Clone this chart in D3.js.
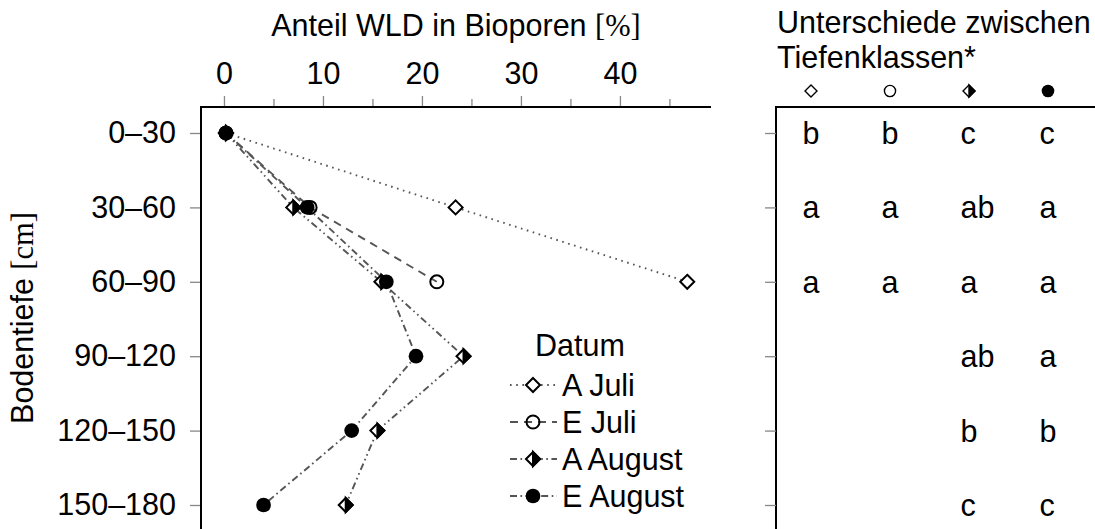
<!DOCTYPE html>
<html><head><meta charset="utf-8">
<script src="https://cdn.jsdelivr.net/npm/d3@7"></script>
<style>body{margin:0;background:#fff}svg{display:block}text{font-family:"Liberation Sans",Arial,sans-serif;fill:#000}</style>
</head><body><svg id="c" width="1095" height="529"></svg>
<script>
const depths = ["0–30","30–60","60–90","90–120","120–150","150–180"];
const xTickValues = [0,5,10,15,20,25,30,35,40,45];
const seriesNames = ["A Juli","E Juli","A August","E August"];
const aJuli = [0.2, 23.4, 46.8];
const eJuli = [0.2, 8.7, 21.5];
const aAugust = [0.2, 7.0, 15.9, 24.2, 15.5, 12.3];
const eAugust = [0.2, 8.4, 16.4, 19.4, 12.9, 4.0];
const lettersAJuli = ["b","a","a"];
const lettersEJuli = ["b","a","a"];
const lettersAAugust = ["c","ab","a","ab","b","c"];
const lettersEAugust = ["c","a","a","a","b","c"];

const FS = 30.5;
const svg = d3.select("#c");
const x = d3.scaleLinear().domain([-2.32, 49.2]).range([201, 711]);
const y = d3.scalePoint().domain(depths).range([133, 505]);
const col = d3.scalePoint().domain(seriesNames).range([811, 1048]);

const styles = [
  {name:"A Juli", vals:aJuli, dash:"1.6,4.6", marker:"diamond"},
  {name:"E Juli", vals:eJuli, dash:"8,6", marker:"ocircle"},
  {name:"A August", vals:aAugust, dash:"7,3.5,1.6,3.5,1.6,3.5", marker:"halfdiamond"},
  {name:"E August", vals:eAugust, dash:"7,3.5,1.6,3.5", marker:"fcircle"}
];

function drawMarker(g, type, cx, cy, s) {
  const sw = s > 6.5 ? 2 : 1.4;
  if (type === "diamond" || type === "halfdiamond") {
    const p = `M${cx},${cy-s}L${cx+s},${cy}L${cx},${cy+s}L${cx-s},${cy}Z`;
    g.append("path").attr("d", p).attr("fill", "#fff").attr("stroke", "#000").attr("stroke-width", sw);
    if (type === "halfdiamond") {
      g.append("path").attr("d", `M${cx},${cy-s}L${cx+s},${cy}L${cx},${cy+s}Z`).attr("fill", "#000").attr("stroke","#000").attr("stroke-width", sw);
    }
  } else if (type === "ocircle") {
    g.append("circle").attr("cx", cx).attr("cy", cy).attr("r", s*0.93).attr("fill", "none").attr("stroke", "#000").attr("stroke-width", sw);
  } else {
    g.append("circle").attr("cx", cx).attr("cy", cy).attr("r", s*1.05).attr("fill", "#000");
  }
}

// Titles
svg.append("text").attr("x", 456).attr("y", 36).attr("text-anchor","middle").attr("font-size", FS)
  .call(t => { t.append("tspan").text("Anteil WLD in Bioporen ");
               t.append("tspan").attr("font-family","'Liberation Serif',serif").text("[%]"); });
svg.append("text").attr("transform","translate(33,318) rotate(-90)").attr("text-anchor","middle").attr("font-size", FS)
  .call(t => { t.append("tspan").text("Bodentiefe ");
               t.append("tspan").attr("font-family","'Liberation Serif',serif").text("[cm]"); });
svg.append("text").attr("x", 777).attr("y", 33).attr("font-size", FS).text("Unterschiede zwischen");
svg.append("text").attr("x", 777).attr("y", 68).attr("font-size", FS).text("Tiefenklassen*");

// Top x axis
const gx = svg.append("g").attr("transform","translate(0,107)")
  .call(d3.axisTop(x).tickValues(xTickValues).tickSize(11).tickPadding(12)
    .tickFormat(d => d % 10 === 0 ? d : ""));
gx.select(".domain").remove();
gx.selectAll(".tick line").attr("stroke","#888").attr("stroke-width",1.3)
  .attr("y2", d => d % 10 === 0 ? -11 : -8);
gx.selectAll(".tick text").attr("font-size", FS).attr("font-family","'Liberation Sans',Arial,sans-serif");

// Left y axis
const gy = svg.append("g").attr("transform","translate(201,0)")
  .call(d3.axisLeft(y).tickSize(11).tickPadding(14));
gy.select(".domain").remove();
gy.selectAll(".tick line").attr("stroke","#888").attr("stroke-width",1.3);
gy.selectAll(".tick text").attr("font-size", FS).attr("font-family","'Liberation Sans',Arial,sans-serif");

// axis lines left panel
svg.append("path").attr("d", `M201,540V107H711`).attr("fill","none").attr("stroke","#000").attr("stroke-width",2);

// Series lines
const line = d3.line().x(d => x(d.v)).y(d => y(d.k));
styles.forEach(s => {
  const pts = s.vals.map((v,i) => ({v, k: depths[i]}));
  svg.append("path").attr("d", line(pts)).attr("fill","none").attr("stroke","#555").attr("stroke-width",1.9)
    .attr("stroke-dasharray", s.dash);
});
styles.forEach(s => {
  const g = svg.append("g");
  s.vals.forEach((v,i) => drawMarker(g, s.marker, x(v), y(depths[i]), 7));
});

// Legend
const lg = svg.append("g");
lg.append("text").attr("x", 535).attr("y", 356).attr("font-size", FS).text("Datum");
const legY = d3.scalePoint().domain(seriesNames).range([385, 496]);
styles.forEach(s => {
  const cy = legY(s.name);
  lg.append("path").attr("d", `M510,${cy}H557`).attr("stroke","#555").attr("stroke-width",1.9).attr("stroke-dasharray", s.dash).attr("fill","none");
  drawMarker(lg, s.marker, 533, cy, 7);
  lg.append("text").attr("x", 562).attr("y", cy + 11).attr("font-size", FS).text(s.name);
});

// Right panel
svg.append("path").attr("d", `M776,540V107H1100`).attr("fill","none").attr("stroke","#000").attr("stroke-width",2);
const gy2 = svg.append("g").attr("transform","translate(776,0)")
  .call(d3.axisLeft(y).tickSize(11).tickFormat(""));
gy2.select(".domain").remove();
gy2.selectAll(".tick line").attr("stroke","#888").attr("stroke-width",1.3);

const letterSets = [lettersAJuli, lettersEJuli, lettersAAugust, lettersEAugust];
styles.forEach((s, j) => {
  const cx = col(s.name);
  drawMarker(svg.append("g"), s.marker, cx, 91, 6);
  letterSets[j].forEach((l, i) => {
    svg.append("text").attr("x", cx - 8.5).attr("y", y(depths[i]) + 11).attr("font-size", FS).text(l);
  });
});
</script></body></html>
